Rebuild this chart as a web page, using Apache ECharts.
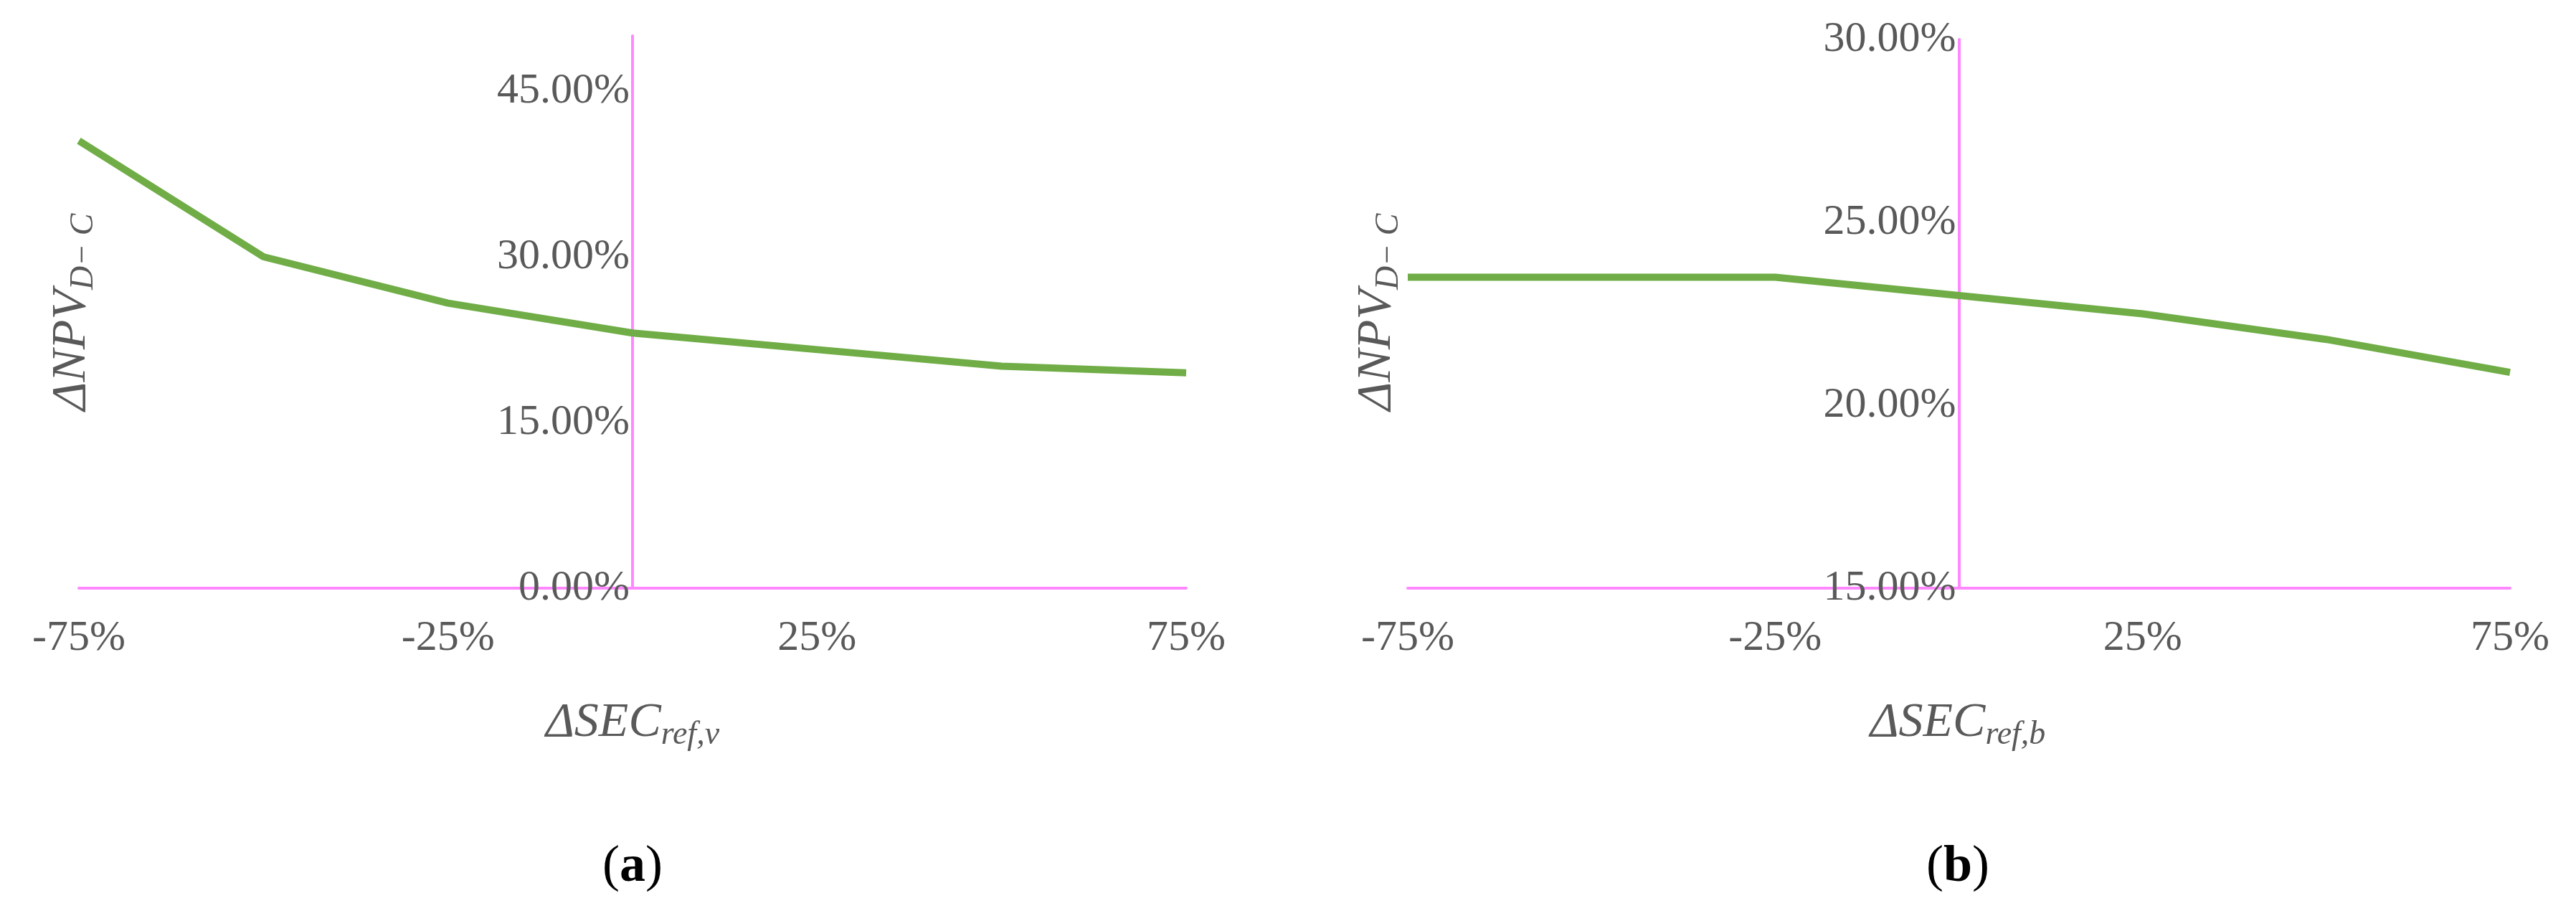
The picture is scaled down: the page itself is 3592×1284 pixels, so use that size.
<!DOCTYPE html>
<html><head><meta charset="utf-8">
<script src="https://cdn.jsdelivr.net/npm/echarts@6/dist/echarts.min.js"></script>
<style>html,body{margin:0;background:#fff}#c{width:3592px;height:1284px}</style>
</head><body><div id="c"></div>
<script>
const changes = [-75, -50, -25, 0, 25, 50, 75]
const npvA = [40.5, 30.0, 25.8, 23.1, 21.6, 20.1, 19.5]
const npvB = [23.5, 23.5, 23.5, 23.0, 22.5, 21.8, 20.9]
const shownTicks = [-75, -25, 25, 75]

var chart = echarts.init(document.getElementById('c'))
const font = 'Liberation Serif'
const grey = '#595959'
const pink = '#FF88FF'

const xAxisFor = (i) => ({
    type: 'value', gridIndex: i, min: -75, max: 75, interval: 25,
    axisLine: { lineStyle: { color: pink, width: 4 } },
    axisTick: { show: false }, splitLine: { show: false },
    axisLabel: {
        margin: 40, fontFamily: font, fontSize: 60, color: grey,
        formatter: v => shownTicks.includes(v) ? v + '%' : ''
    }
})
// the y axis sits at x = 0, i.e. half way across each grid
const yAxisFor = (i, min, max, step, shift) => ({
    type: 'value', gridIndex: i, min: min, max: max, interval: step, offset: -shift,
    axisLine: { show: true, lineStyle: { color: pink, width: 4 } },
    axisTick: { show: false }, splitLine: { show: false },
    axisLabel: { margin: 4, fontFamily: font, fontSize: 60, color: grey,
        formatter: v => (max - v) % step === 0 || v % step === 0 ? ((v - min) % step === 0 ? v.toFixed(2) + '%' : '') : '' }
})
const rich = {
    n: { fontFamily: font, fontSize: 68, fontStyle: 'italic', fill: grey },
    s: { fontFamily: font, fontSize: 46, fontStyle: 'italic', fill: grey, verticalAlign: 'bottom', padding: [34, 0, 0, 0] }
}
const label = (x, y, text, rot) => ({
    type: 'text', x: x, y: y, rotation: rot || 0,
    style: { text: text, rich: rich, align: 'center', verticalAlign: 'middle' }
})
const panel = (x, letter) => ({
    type: 'text', x: x, y: 1209,
    style: {
        text: '{p|(}{b|' + letter + '}{p|)}', align: 'center', verticalAlign: 'middle',
        rich: {
            p: { fontFamily: font, fontSize: 72, fill: '#000' },
            b: { fontFamily: font, fontSize: 72, fontWeight: 'bold', fill: '#000' }
        }
    }
})

let option = {
    animation: false,
    grid: [
        { left: 110, right: 3592 - 1654, top: 50, bottom: 1284 - 820 },
        { left: 1963, right: 3592 - 3500, top: 55, bottom: 1284 - 820 }
    ],
    xAxis: [xAxisFor(0), xAxisFor(1)],
    yAxis: [yAxisFor(0, 0, 50, 15, (1654 - 110) / 2), yAxisFor(1, 15, 30, 5, (3500 - 1963) / 2)],
    graphic: [
        label(100, 435, '{n|ΔNPV}{s|D− C}', Math.PI / 2),
        label(1920, 435, '{n|ΔNPV}{s|D− C}', Math.PI / 2),
        label(882, 1008, '{n|ΔSEC}{s|ref,v}'),
        label(2730, 1008, '{n|ΔSEC}{s|ref,b}'),
        panel(882, 'a'),
        panel(2730, 'b')
    ],
    series: [
        { type: 'line', xAxisIndex: 0, yAxisIndex: 0, showSymbol: false,
          lineStyle: { color: '#70AD47', width: 10 }, data: changes.map((c, i) => [c, npvA[i]]) },
        { type: 'line', xAxisIndex: 1, yAxisIndex: 1, showSymbol: false,
          lineStyle: { color: '#70AD47', width: 10 }, data: changes.map((c, i) => [c, npvB[i]]) }
    ]
}
chart.setOption(option)
</script></body></html>
